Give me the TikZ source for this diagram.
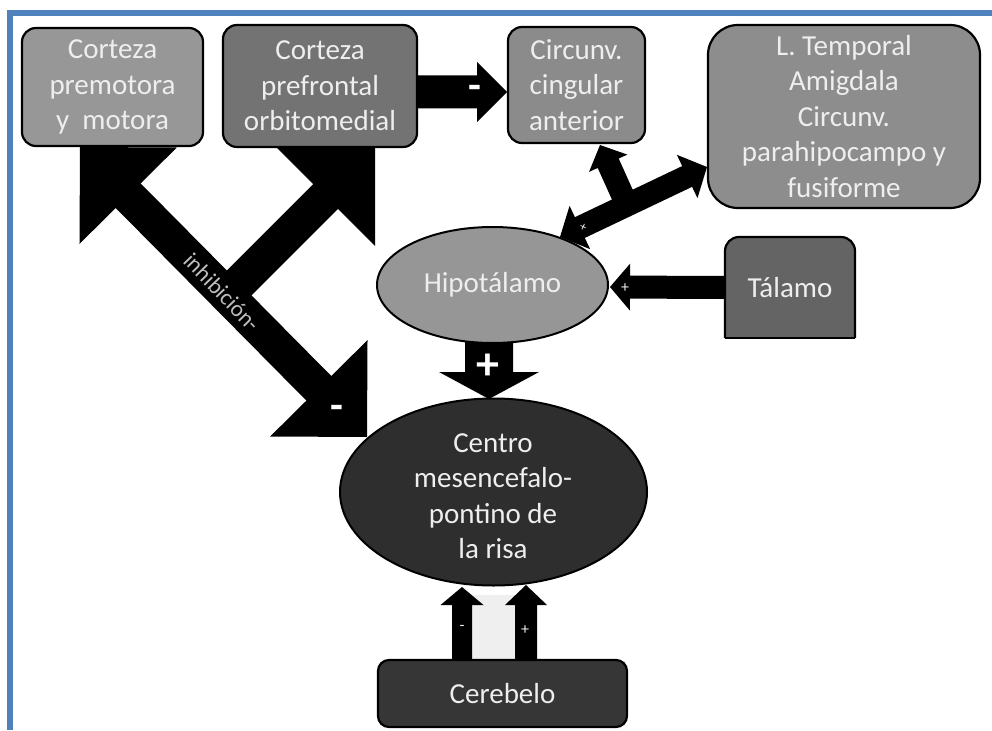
\documentclass[tikz,border=0pt]{standalone}
\usepackage{fontspec}
\setmainfont{Carlito}
\usetikzlibrary{shapes.geometric,calc}
\definecolor{frameblue}{HTML}{4F81BD}
\definecolor{txt}{HTML}{EEEEEE}
\definecolor{cpremot}{HTML}{979797}
\definecolor{cprefr}{HTML}{737373}
\definecolor{ccirc}{HTML}{8B8B8B}
\definecolor{cltemp}{HTML}{8D8D8D}
\definecolor{ctal}{HTML}{646464}
\definecolor{chipo}{HTML}{969696}
\definecolor{ccentro}{HTML}{2E2E2E}
\definecolor{ccereb}{HTML}{363636}
\definecolor{cgap}{HTML}{EFEFEF}
\pgfdeclarelayer{bg}
\pgfsetlayers{bg,main}
% single block arrow: start #1, tip #2, shaft width #3, head width #4, head length #5
\newcommand{\sblockarrow}[5]{%
  \coordinate (ah) at ($(#2)!#5!(#1)$);
  \fill[black] ($(#1)!#3/2!90:(#2)$) -- ($(ah)!#3/2!90:(#2)$) -- ($(ah)!#4/2!90:(#2)$) -- (#2)
    -- ($(ah)!#4/2!-90:(#2)$) -- ($(ah)!#3/2!-90:(#2)$) -- ($(#1)!#3/2!-90:(#2)$) -- cycle;
}
% double block arrow between tips #1 and #2
\newcommand{\dblockarrow}[5]{%
  \coordinate (ha) at ($(#1)!#5!(#2)$);
  \coordinate (hb) at ($(#2)!#5!(#1)$);
  \fill[black] ($(ha)!#4/2!-90:(hb)$) -- (#1) -- ($(ha)!#4/2!90:(hb)$) -- ($(ha)!#3/2!90:(hb)$)
    -- ($(hb)!#3/2!-90:(ha)$) -- ($(hb)!#4/2!-90:(ha)$) -- (#2) -- ($(hb)!#4/2!90:(ha)$)
    -- ($(hb)!#3/2!90:(ha)$) -- ($(ha)!#3/2!-90:(hb)$) -- cycle;
}
\begin{document}
\begin{tikzpicture}[x=1pt,y=-1pt,
  box/.style={draw=black, line width=2.2pt, rounded corners=14pt, text=txt,
    font=\fontsize{29}{35.5}\selectfont, align=center, inner sep=0pt},
  ell/.style={ellipse, draw=black, line width=2pt, text=txt,
    font=\fontsize{29}{35.5}\selectfont, align=center, inner sep=0pt},
  txtonly/.style={text=txt, font=\fontsize{29}{35.5}\selectfont, align=center, inner sep=0pt},
  bigsign/.style={text=white, font=\bfseries\fontsize{46}{46}\selectfont, inner sep=0pt},
  dashsign/.style={text=white, font=\bfseries\fontsize{42}{42}\selectfont, inner sep=0pt},
  smallsign/.style={text=txt, font=\fontsize{16}{16}\selectfont, inner sep=0pt},
]
\useasboundingbox (0,0) rectangle (992,730);
\begin{pgfonlayer}{bg}
  \fill[white] (0,0) rectangle (992,730);
\end{pgfonlayer}
\draw[frameblue, line width=6pt] (992,13) -- (10,13) -- (10,730);

% boxes
\node[box, fill=cpremot, minimum width=181pt, minimum height=118pt] (premot) at (112.5,87)
  {Corteza\\premotora\\y~ motora};
\node[box, fill=cprefr, minimum width=194pt, minimum height=122pt] (prefr) at (320,86)
  {Corteza\\prefrontal\\orbitomedial};
\node[box, fill=ccirc, minimum width=137pt, minimum height=116pt] (circ) at (576.5,85)
  {Circunv.\\cingular\\anterior};
\node[box, fill=cltemp, rounded corners=30pt, minimum width=272pt, minimum height=183pt] (ltemp) at (844,116.5)
  {L. Temporal\\Amigdala\\Circunv.\\parahipocampo y\\fusiforme};
\filldraw[fill=ctal, draw=black, line width=2.2pt, rounded corners=14pt]
  (725,338) -- (725,237) -- (855,237) -- (855,338);
\draw[black, line width=2.2pt, line cap=square] (725,338) -- (855,338);
\node[txtonly, minimum width=130pt, minimum height=101pt] (talamo) at (790,287.5) {Tálamo};
\node[ell, fill=chipo, minimum width=231pt, minimum height=116pt] (hipo) at (492.5,285) {Hipotálamo};
\node[ell, fill=ccentro, minimum width=307pt, minimum height=187pt] (centro) at (493.5,492) {};
\node[txtonly] (centrotxt) at (493,496) {Centro\\mesencefalo-\\pontino de\\la risa};
\node[box, fill=ccereb, rounded corners=11pt, minimum width=249pt, minimum height=67pt] (cereb) at (502.5,693.5) {Cerebelo};

% connector end points
\coordinate (a1s) at (80,147);
\coordinate (a1e) at (367,437);
\coordinate (a2s) at (227,295);
\coordinate (a2e) at (375,147);
\coordinate (a3s) at (prefr.east |- 0,92);
\coordinate (a3e) at (507,92);
\coordinate (a4s) at (talamo.west);
\coordinate (a4e) at (610,287);
\coordinate (a5s) at (489,340);
\coordinate (a5e) at (489,399);
\coordinate (a6s) at (462,662);
\coordinate (a6e) at (462,587);
\coordinate (a7s) at (526,662);
\coordinate (a7e) at (526,585);
\coordinate (a8s) at (560,237);
\coordinate (a8e) at (707,167);
\coordinate (a9s) at (627,205);
\coordinate (a9e) at (600,145);

\begin{pgfonlayer}{bg}
  \fill[cgap] (472,595) rectangle (515,660);
  \dblockarrow{a1s}{a1e}{35pt}{137pt}{68.5pt}
  \sblockarrow{a2s}{a2e}{35pt}{140pt}{70pt}
  \sblockarrow{a3s}{a3e}{33pt}{60pt}{30pt}
  \sblockarrow{a4s}{a4e}{23pt}{47pt}{20pt}
  \sblockarrow{a5s}{a5e}{48pt}{100pt}{27pt}
  \sblockarrow{a6s}{a6e}{20pt}{43pt}{18pt}
  \sblockarrow{a7s}{a7e}{22pt}{42pt}{20pt}
  \dblockarrow{a8s}{a8e}{23pt}{48pt}{22pt}
  \sblockarrow{a9s}{a9e}{23pt}{42pt}{20pt}
\end{pgfonlayer}

% labels on connectors
\node[dashsign] (m3) at (475,92) {-};
\node[dashsign] (m1) at (337,412) {-};
\node[text=txt!80!black, font=\fontsize{23}{23}\selectfont, rotate=-46, inner sep=0pt] (inh) at (222,292) {inhibición-};
\node[bigsign] (p5) at (488,367) {+};
\node[smallsign] (p4) at (625,288) {+};
\node[smallsign] (m6) at (462,628) {-};
\node[smallsign] (p7) at (525,630) {+};
\node[smallsign, font=\fontsize{13}{13}\selectfont, rotate=-25] (p8) at (583,228) {+};
\end{tikzpicture}
\end{document}
